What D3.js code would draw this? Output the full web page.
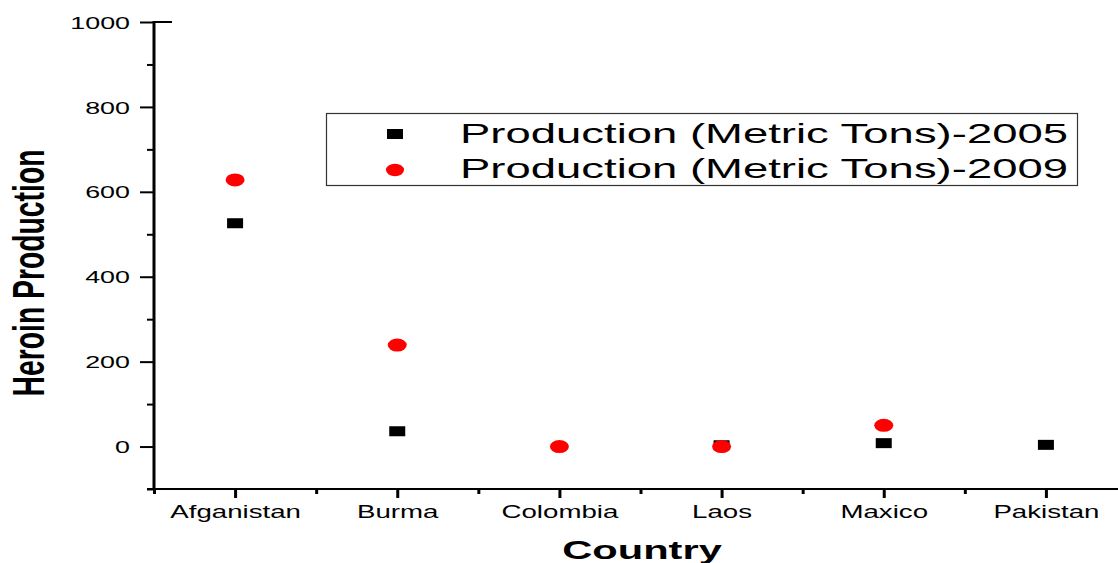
<!DOCTYPE html>
<html>
<head>
<meta charset="utf-8">
<script src="https://cdn.jsdelivr.net/npm/d3@7"></script>
<style>
  body { margin: 0; background: #fff; }
  text { font-family: "Liberation Sans", Arial, sans-serif; }
</style>
</head>
<body>
<script>
// data
var countries = ["Afganistan", "Burma", "Colombia", "Laos", "Maxico", "Pakistan"];
var prod2005 = [526, 36, null, 3, 8, 4];
var prod2009 = [628, 239, 0, 0, 50, null];
var seriesNames = ["Production (Metric Tons)-2005", "Production (Metric Tons)-2009"];
var yMajor = [0, 200, 400, 600, 800, 1000];
var yMinor = [-100, 100, 300, 500, 700, 900];

var W = 1118, H = 563;
var sx = 1.58;   // the original picture is stretched sideways

var svg = d3.select("body").append("svg")
    .attr("width", W).attr("height", H);

var x = d3.scaleLinear().domain([0.5, 6.5]).range([154, 1127]);
var y = d3.scaleLinear().domain([-100, 1000]).range([489, 22]);

// y axis
var yAx = svg.append("g").attr("transform", "translate(154,0)")
    .call(d3.axisLeft(y).tickValues(yMajor).tickSize(14).tickFormat(d3.format("d")));
yAx.select(".domain").remove();
yAx.selectAll("line").attr("stroke", "#000").attr("stroke-width", 2);
yAx.selectAll("text")
    .attr("x", 0).attr("dy", "0.36em")
    .attr("transform", "translate(-24,0) scale(" + sx + ",1)")
    .style("font-size", "17px").attr("fill", "#000");

var yMin = svg.append("g").attr("transform", "translate(154,0)")
    .call(d3.axisLeft(y).tickValues(yMinor).tickSize(7).tickFormat(""));
yMin.select(".domain").remove();
yMin.selectAll("line").attr("stroke", "#000").attr("stroke-width", 2);

// x axis
var xAx = svg.append("g").attr("transform", "translate(0,489)")
    .call(d3.axisBottom(x).tickValues(d3.range(1, 7)).tickSize(9)
      .tickFormat(function(d) { return countries[d - 1]; }));
xAx.select(".domain").remove();
xAx.selectAll("line").attr("stroke", "#000").attr("stroke-width", 3);
xAx.selectAll("text")
    .attr("y", 0).attr("dy", 0)
    .attr("transform", "translate(0,29) scale(" + sx + ",1)")
    .style("font-size", "17.5px").attr("fill", "#000");

var xMin = svg.append("g").attr("transform", "translate(0,489)")
    .call(d3.axisBottom(x).tickValues([0.5, 1.5, 2.5, 3.5, 4.5, 5.5, 6.5]).tickSize(5).tickFormat(""));
xMin.select(".domain").remove();
xMin.selectAll("line").attr("stroke", "#000").attr("stroke-width", 3);

// axis lines
svg.append("line").attr("x1", 147).attr("x2", W).attr("y1", y(-100)).attr("y2", y(-100))
    .attr("stroke", "#000").attr("stroke-width", 2);
svg.append("line").attr("x1", 154).attr("x2", 154).attr("y1", y(1000) - 1).attr("y2", y(-100) + 1)
    .attr("stroke", "#000").attr("stroke-width", 3);
svg.append("line").attr("x1", 154).attr("x2", 172).attr("y1", y(1000)).attr("y2", y(1000))
    .attr("stroke", "#000").attr("stroke-width", 2);

// titles
svg.append("text")
    .attr("transform", "translate(28,273) scale(" + sx + ",1) rotate(-90)")
    .attr("text-anchor", "middle").attr("dy", "0.36em")
    .style("font-size", "28px").style("font-weight", "bold")
    .attr("textLength", 247).attr("lengthAdjust", "spacingAndGlyphs")
    .text("Heroin Production");

svg.append("text")
    .attr("transform", "translate(642,559) scale(" + sx + ",1)")
    .attr("text-anchor", "middle")
    .style("font-size", "26px").style("font-weight", "bold")
    .attr("textLength", 101).attr("lengthAdjust", "spacingAndGlyphs")
    .text("Country");

// points: 2005 squares first, 2009 circles on top
var pts05 = prod2005.map(function(v, i) { return {i: i + 1, v: v}; }).filter(function(d) { return d.v != null; });
var pts09 = prod2009.map(function(v, i) { return {i: i + 1, v: v}; }).filter(function(d) { return d.v != null; });

svg.append("g").selectAll("rect").data(pts05).enter().append("rect")
    .attr("x", function(d) { return x(d.i) - 8; })
    .attr("y", function(d) { return y(d.v) - 5; })
    .attr("width", 16).attr("height", 10)
    .attr("fill", "#000");

svg.append("g").selectAll("ellipse").data(pts09).enter().append("ellipse")
    .attr("cx", function(d) { return x(d.i); })
    .attr("cy", function(d) { return y(d.v); })
    .attr("rx", 9.5).attr("ry", 6.5)
    .attr("fill", "#ff0000");

// legend
var leg = svg.append("g");
leg.append("rect").attr("x", 326.5).attr("y", 113.5).attr("width", 751).attr("height", 72)
    .attr("fill", "none").attr("stroke", "#333").attr("stroke-width", 1.2);
leg.append("rect").attr("x", 387).attr("y", 129).attr("width", 16).attr("height", 10).attr("fill", "#000");
leg.append("ellipse").attr("cx", 395).attr("cy", 170).attr("rx", 9).attr("ry", 6.2).attr("fill", "#ff0000");
leg.selectAll("text.lg").data(seriesNames).enter().append("text")
    .attr("class", "lg")
    .attr("transform", function(d, i) { return "translate(460," + (143 + i * 35) + ") scale(" + sx + ",1)"; })
    .style("font-size", "28px")
    .attr("textLength", 608 / sx).attr("lengthAdjust", "spacingAndGlyphs")
    .text(function(d) { return d; });
</script>
</body>
</html>
